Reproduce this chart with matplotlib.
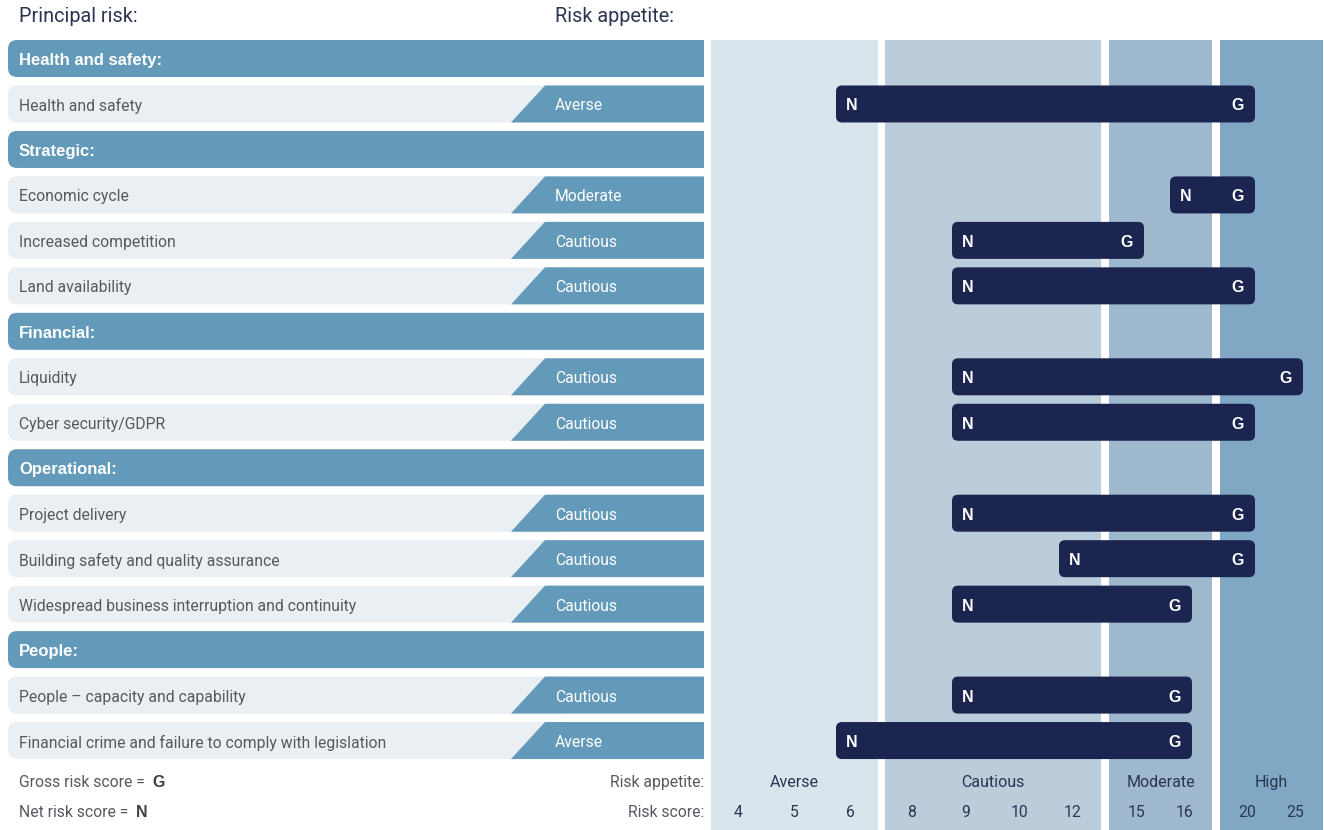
import matplotlib
matplotlib.use("Agg")
import matplotlib.pyplot as plt
from matplotlib.patches import FancyBboxPatch, Rectangle, Polygon

# ---------------- data ----------------
groups = ["Health and safety", "Strategic", "Financial", "Operational", "People"]
risks = [
    "Health and safety",
    "Economic cycle", "Increased competition", "Land availability",
    "Liquidity", "Cyber security/GDPR",
    "Project delivery", "Building safety and quality assurance",
    "Widespread business interruption and continuity",
    "People \u2013 capacity and capability",
    "Financial crime and failure to comply with legislation",
]
risk_group = [0, 1, 1, 1, 2, 2, 3, 3, 3, 4, 4]
appetite = ["Averse", "Moderate", "Cautious", "Cautious", "Cautious", "Cautious",
            "Cautious", "Cautious", "Cautious", "Cautious", "Averse"]
net_score = [6, 16, 9, 9, 9, 9, 9, 12, 9, 9, 6]
gross_score = [20, 20, 15, 20, 25, 20, 20, 20, 16, 16, 16]

score_ticks = [4, 5, 6, 8, 9, 10, 12, 15, 16, 20, 25]
appetite_levels = ["Averse", "Cautious", "Moderate", "High"]
level_scores = [[4, 5, 6], [8, 9, 10, 12], [15, 16], [20, 25]]

# ---------------- layout / style ----------------
W, H = 1324, 830
tick_px = [738, 794, 850, 912, 966, 1020, 1073, 1136, 1184, 1247, 1295]
pos = dict(zip(score_ticks, tick_px))
band_colors = ["#dae4ed", "#bbcddb", "#9eb8ce", "#80a7c3"]
HEAD = "#6399b9"
ROWBG = "#eaeff3"
NAVY = "#1b2550"
TXT = "#555a60"
TICKTXT = "#2b3552"
y0, pitch, hh = 58.5, 45.47, 18.5
LEFT, RIGHT = 8, 704
DY = 2  # text baseline nudge

FONT = ["Roboto", "DejaVu Sans"]
BOLDF = ["Liberation Sans", "DejaVu Sans"]
plt.rcParams["font.family"] = FONT

fig = plt.figure(figsize=(W / 100, H / 100), dpi=100)
ax = fig.add_axes([0, 0, 1, 1])
ax.set_xlim(0, W)
ax.set_ylim(H, 0)
ax.axis("off")

clip_rect = Rectangle((0, 0), RIGHT, H, transform=ax.transData)

# titles
ax.text(19, 17, "Principal risk:", fontsize=14.3, color=TICKTXT, va="center", ha="left")
ax.text(555, 17, "Risk appetite:", fontsize=14.3, color=TICKTXT, va="center", ha="left")

# appetite bands
for lvl, scs, col in zip(appetite_levels, level_scores, band_colors):
    x1 = pos[scs[0]] - 27
    x2 = min(pos[scs[-1]] + 28, W)
    ax.add_patch(Rectangle((x1, 40), x2 - x1, H - 40, color=col, lw=0, zorder=1))
    ax.text((x1 + x2) / 2, 780 + DY, lvl, fontsize=11.5, color=TICKTXT, ha="center", va="center")
    for s in scs:
        ax.text(pos[s], 810 + DY, str(s), fontsize=11.3, color=TICKTXT, ha="center", va="center")

# build row order
rows = []
for gi, g in enumerate(groups):
    rows.append(("head", gi))
    for ri, rg in enumerate(risk_group):
        if rg == gi:
            rows.append(("risk", ri))

for i, (kind, idx) in enumerate(rows):
    yc = y0 + i * pitch
    top, bot = yc - hh, yc + hh
    if kind == "head":
        p = FancyBboxPatch((LEFT, top), RIGHT - LEFT + 30, bot - top,
                           boxstyle="round,pad=0,rounding_size=9",
                           fc=HEAD, ec="none", zorder=2)
        ax.add_patch(p)
        p.set_clip_path(clip_rect)
        ax.text(19, yc + DY, groups[idx] + ":", fontsize=12, fontweight="bold",
                family=BOLDF, color="white", ha="left", va="center", zorder=3)
    else:
        ax.add_patch(FancyBboxPatch((LEFT, top), 560, bot - top,
                                    boxstyle="round,pad=0,rounding_size=9",
                                    fc=ROWBG, ec="none", zorder=2))
        ax.add_patch(Polygon([(511, bot), (545, top), (RIGHT, top), (RIGHT, bot)],
                             closed=True, fc=HEAD, ec="none", zorder=3))
        ax.text(19, yc + DY, risks[idx], fontsize=11.3, color=TXT, ha="left", va="center", zorder=4)
        ax.text(555, yc + DY, appetite[idx], fontsize=11.3, color="white", ha="left",
                va="center", zorder=4)
        # risk bar
        xs = pos[net_score[idx]] - 14
        xe = pos[gross_score[idx]] + 8
        ax.add_patch(FancyBboxPatch((xs, top), xe - xs, bot - top,
                                    boxstyle="round,pad=0,rounding_size=6",
                                    fc=NAVY, ec="none", zorder=5))
        ax.text(xs + 16, yc + DY, "N", fontsize=11.5, fontweight="bold", family=BOLDF,
                color="white", ha="center", va="center", zorder=6)
        ax.text(xe - 17, yc + DY, "G", fontsize=11.5, fontweight="bold", family=BOLDF,
                color="white", ha="center", va="center", zorder=6)

# footer legend
for yy, lab, key in [(780, "Gross risk score = ", "G"), (810, "Net risk score = ", "N")]:
    t = ax.text(19, yy + DY + 5, lab, fontsize=11.3, color=TXT, ha="left", va="baseline")
    ax.annotate(key, xy=(1, 0), xycoords=t, xytext=(2.5, 0), textcoords="offset points",
                fontsize=11.5, fontweight="bold", family=BOLDF, color="#3a3f45",
                ha="left", va="bottom")
ax.text(RIGHT, 780 + DY, "Risk appetite:", fontsize=11.3, color=TXT, ha="right", va="center")
ax.text(RIGHT, 810 + DY, "Risk score:", fontsize=11.3, color=TXT, ha="right", va="center")

fig.savefig("out.png", dpi=100)
